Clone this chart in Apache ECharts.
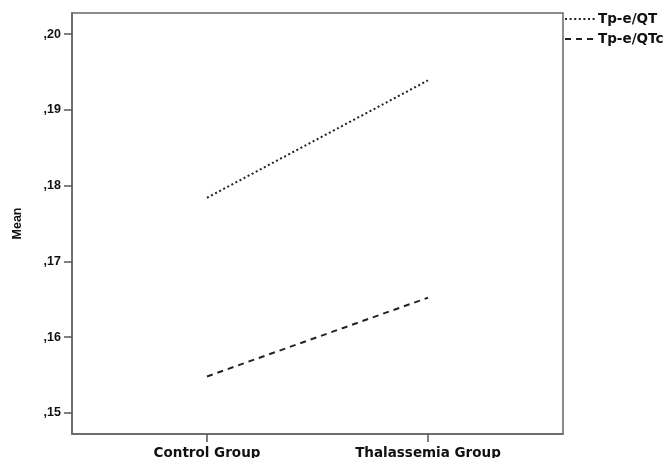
<!DOCTYPE html>
<html>
<head>
<meta charset="utf-8">
<script src="https://cdn.jsdelivr.net/npm/echarts@6/dist/echarts.min.js"></script>
<style>
  html, body { margin: 0; padding: 0; background: #fff; }
  #chart { width: 670px; height: 458px; }
</style>
</head>
<body>
<div id="chart"></div>
<script>
// groups on the x axis (plotted at positions 0 and 1)
const categories = ['Control Group', 'Thalassemia Group']
const groupPos = [0, 1]
// mean values
const tpeQT = [0.1784, 0.1939]
const tpeQTc = [0.1548, 0.1652]
const yTicks = [0.15, 0.16, 0.17, 0.18, 0.19, 0.20]

const font = 'Liberation Sans, Arial, sans-serif'
const wideFont = 'DejaVu Sans, Verdana, sans-serif'
const chart = echarts.init(document.getElementById('chart'))

const pairs = (vals) => groupPos.map((x, i) => [x, vals[i]])

const option = {
  animation: false,
  backgroundColor: '#fff',
  grid: {
    left: 72,
    right: 107,
    top: 13,
    bottom: 24,
    outerBoundsMode: 'none',
    containLabel: false,
    show: true,
    borderColor: '#666',
    borderWidth: 1.5
  },
  legend: {
    orient: 'vertical',
    left: 564,
    top: 12,
    itemWidth: 30,
    itemHeight: 12,
    itemGap: 6,
    padding: 0,
    itemStyle: { opacity: 0 },
    textStyle: { fontFamily: wideFont, fontWeight: 'bold', fontSize: 13.5, color: '#111', padding: [0, 0, 0, -2] },
    data: ['Tp-e/QT', 'Tp-e/QTc']
  },
  xAxis: {
    type: 'value',
    min: -0.611,
    max: 1.611,
    splitLine: { show: false },
    axisLine: { show: true, onZero: false, lineStyle: { color: '#666', width: 1.5 } },
    axisTick: { show: true, length: 8, lineStyle: { color: '#555', width: 1.5 }, customValues: groupPos },
    axisLabel: {
      customValues: groupPos,
      margin: 12,
      fontFamily: wideFont,
      fontWeight: 'bold',
      fontSize: 13.5,
      color: '#111',
      formatter: (v) => categories[Math.round(v)]
    }
  },
  yAxis: {
    type: 'value',
    min: 0.1472,
    max: 0.2028,
    name: 'Mean',
    nameLocation: 'middle',
    nameGap: 48,
    nameTextStyle: { fontFamily: font, fontWeight: 'bold', fontSize: 12.5, color: '#111' },
    splitLine: { show: false },
    axisLine: { show: true, onZero: false, lineStyle: { color: '#666', width: 1.5 } },
    axisTick: { show: true, length: 8, lineStyle: { color: '#555', width: 1.5 }, customValues: yTicks },
    axisLabel: {
      customValues: yTicks,
      margin: 11,
      fontFamily: font,
      fontWeight: 'bold',
      fontSize: 12.5,
      color: '#111',
      formatter: (v) => ',' + v.toFixed(2).slice(2)
    }
  },
  series: [
    {
      name: 'Tp-e/QT',
      type: 'line',
      symbol: 'none',
      data: pairs(tpeQT),
      lineStyle: { color: '#222', width: 2, type: [2, 2.6] },
      itemStyle: { color: '#222' }
    },
    {
      name: 'Tp-e/QTc',
      type: 'line',
      symbol: 'none',
      data: pairs(tpeQTc),
      lineStyle: { color: '#222', width: 2, type: [6, 5] },
      itemStyle: { color: '#222' }
    }
  ]
}

chart.setOption(option)
</script>
</body>
</html>
